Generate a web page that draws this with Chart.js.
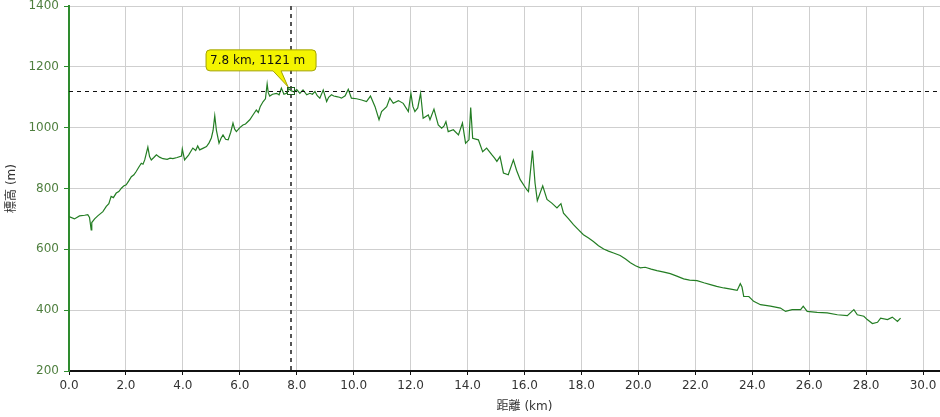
<!DOCTYPE html>
<html>
<head>
<meta charset="utf-8">
<script src="https://cdn.jsdelivr.net/npm/chart.js@4.4.1/dist/chart.umd.min.js"></script>
<style>
  html, body { margin: 0; padding: 0; background: #ffffff; overflow: hidden; }
  #wrap { width: 980px; height: 417px; }
</style>
</head>
<body>
<div id="wrap"><canvas id="c" width="980" height="417"></canvas></div>
<script>
// Distance along route (km)
const distanceKm = [
  0.0, 0.19, 0.37, 0.55, 0.66, 0.72, 0.78, 0.80, 0.9, 1.01, 1.19, 1.31, 1.4, 1.48, 1.56, 1.66, 1.75, 1.84, 1.92, 2.01,
  2.1, 2.19, 2.28, 2.36, 2.45, 2.54, 2.6, 2.66, 2.77, 2.83, 2.89, 2.98, 3.07, 3.18, 3.30, 3.45, 3.55, 3.65, 3.8, 3.95,
  3.98, 4.06, 4.2, 4.35, 4.45, 4.52, 4.59, 4.7, 4.83, 4.92, 5.00, 5.06, 5.12, 5.18, 5.27, 5.34, 5.41, 5.5, 5.59, 5.68,
  5.76, 5.82, 5.88, 6.0, 6.11, 6.2, 6.35, 6.45, 6.58, 6.65, 6.72, 6.82, 6.9, 6.96, 7.0, 7.05, 7.15, 7.29, 7.38, 7.46,
  7.55, 7.64, 7.72, 7.81, 7.9, 8.0, 8.11, 8.22, 8.35, 8.46, 8.55, 8.64, 8.72, 8.81, 8.93, 9.05, 9.12, 9.22, 9.3, 9.40,
  9.5, 9.57, 9.7, 9.81, 9.92, 10.1, 10.28, 10.45, 10.59, 10.75, 10.89, 10.98, 11.16, 11.27, 11.39, 11.57, 11.74, 11.92, 12.01, 12.08,
  12.15, 12.25, 12.35, 12.44, 12.62, 12.68, 12.82, 12.97, 13.09, 13.17, 13.24, 13.32, 13.50, 13.68, 13.82, 13.93, 14.05, 14.11, 14.18, 14.38,
  14.53, 14.67, 14.85, 14.95, 15.03, 15.14, 15.26, 15.43, 15.61, 15.72, 15.85, 16.08, 16.14, 16.28, 16.37, 16.45, 16.64, 16.79, 16.96, 17.14,
  17.28, 17.37, 17.55, 17.72, 17.9, 18.07, 18.25, 18.42, 18.6, 18.78, 18.95, 19.13, 19.36, 19.55, 19.72, 19.9, 20.07, 20.24, 20.45, 20.65,
  20.9, 21.12, 21.35, 21.59, 21.8, 22.06, 22.3, 22.53, 22.75, 23.0, 23.25, 23.47, 23.58, 23.64, 23.70, 23.88, 24.05, 24.29, 24.64, 24.99,
  25.17, 25.40, 25.70, 25.79, 25.93, 26.28, 26.63, 26.99, 27.34, 27.57, 27.69, 27.92, 28.04, 28.22, 28.40, 28.51, 28.75, 28.92, 29.10, 29.21
];
// Elevation (m)
const elevationM = [
  708, 700, 710, 712, 714, 705, 664, 688, 700, 710, 724, 741, 750, 774, 770, 785, 790, 801, 808, 812,
  825, 839, 845, 856, 870, 883, 880, 894, 936, 905, 894, 902, 911, 903, 898, 896, 900, 898, 902, 907,
  930, 894, 910, 933, 925, 940, 927, 932, 938, 950, 966, 990, 1039, 990, 949, 965, 976, 962, 960, 985,
  1015, 995, 987, 1000, 1009, 1012, 1026, 1040, 1058, 1050, 1070, 1086, 1095, 1144, 1115, 1104, 1110, 1113, 1108, 1130,
  1110, 1113, 1128, 1121, 1118, 1125, 1113, 1124, 1108, 1113, 1110, 1119, 1105, 1097, 1124, 1086, 1100, 1108, 1104, 1102,
  1100, 1097, 1105, 1126, 1097, 1095, 1091, 1086, 1104, 1069, 1026, 1053, 1069, 1097, 1080, 1089, 1080, 1053, 1113, 1070,
  1053, 1065, 1113, 1031, 1042, 1026, 1061, 1009, 998, 1005, 1020, 987, 993, 976, 1015, 949, 960, 1066, 965, 960,
  921, 933, 911, 900, 889, 905, 851, 845, 894, 860, 829, 796, 790, 925, 818, 760, 809, 764, 752, 736,
  750, 719, 700, 681, 664, 648, 637, 626, 612, 601, 594, 588, 580, 568, 556, 546, 539, 541, 535, 530,
  525, 520, 512, 503, 499, 497, 490, 484, 478, 473, 469, 465, 487, 476, 445, 445, 429, 418, 413, 407,
  396, 402, 402, 413, 396, 393, 391, 385, 382, 402, 385, 380, 369, 356, 360, 374, 369, 377, 363, 374
];
// Tick labels
const xTickValues = [0, 2, 4, 6, 8, 10, 12, 14, 16, 18, 20, 22, 24, 26, 28, 30];
const yTickValues = [200, 400, 600, 800, 1000, 1200, 1400];
// Highlighted point
const markerKm = [7.8];
const markerM = [1121];
const markerLabel = ['7.8 km, 1121 m'];

const points = distanceKm.map((d, i) => ({ x: d, y: elevationM[i] }));

const crosshairPlugin = {
  id: 'crosshair',
  afterDatasetsDraw(chart) {
    const { ctx, chartArea, scales } = chart;
    const px = scales.x.getPixelForValue(markerKm[0]);
    const py = scales.y.getPixelForValue(markerM[0]);
    ctx.save();
    ctx.strokeStyle = '#111';
    ctx.lineWidth = 1;
    ctx.setLineDash([4, 4]);
    ctx.beginPath();
    ctx.moveTo(chartArea.left, Math.round(py) + 0.5);
    ctx.lineTo(chartArea.right, Math.round(py) + 0.5);
    ctx.stroke();
    ctx.strokeStyle = '#555';
    ctx.lineWidth = 2;
    ctx.setLineDash([4, 4]);
    ctx.beginPath();
    ctx.moveTo(Math.round(px), chartArea.top);
    ctx.lineTo(Math.round(px), chartArea.bottom);
    ctx.stroke();
    ctx.setLineDash([]);
    ctx.strokeStyle = '#1f5f1f';
    ctx.lineWidth = 1;
    ctx.strokeRect(Math.round(px) - 3.5, Math.round(py) - 3.5, 7, 7);
    const left = px - 85, top = py - 41, w = 110, h = 21, r = 4;
    const bottom = top + h;
    ctx.beginPath();
    ctx.moveTo(left + r, top);
    ctx.lineTo(left + w - r, top);
    ctx.quadraticCurveTo(left + w, top, left + w, top + r);
    ctx.lineTo(left + w, bottom - r);
    ctx.quadraticCurveTo(left + w, bottom, left + w - r, bottom);
    ctx.lineTo(px - 10, bottom);
    ctx.lineTo(px - 3, py - 4);
    ctx.lineTo(px - 18, bottom);
    ctx.lineTo(left + r, bottom);
    ctx.quadraticCurveTo(left, bottom, left, bottom - r);
    ctx.lineTo(left, top + r);
    ctx.quadraticCurveTo(left, top, left + r, top);
    ctx.closePath();
    ctx.fillStyle = '#f4f400';
    ctx.fill();
    ctx.strokeStyle = '#a3a300';
    ctx.lineWidth = 1;
    ctx.stroke();
    ctx.fillStyle = '#111';
    ctx.font = '12px "DejaVu Sans", Verdana, sans-serif';
    ctx.textBaseline = 'middle';
    ctx.textAlign = 'left';
    ctx.fillText(markerLabel[0], left + 4, top + h / 2 + 0.5);
    ctx.restore();
  }
};

new Chart(document.getElementById('c'), {
  type: 'line',
  data: {
    datasets: [{
      data: points,
      borderColor: '#237d23',
      borderWidth: 1.2,
      pointRadius: 0,
      tension: 0,
      fill: false
    }]
  },
  options: {
    responsive: false,
    animation: false,
    events: [],
    layout: { padding: { top: 6, left: 0, right: 0, bottom: 0 } },
    plugins: { legend: { display: false }, tooltip: { enabled: false } },
    scales: {
      x: {
        type: 'linear',
        min: 0,
        max: 32,
        afterBuildTicks: s => { s.ticks = xTickValues.map(v => ({ value: v })); },
        afterFit: s => { s.height = 46; s.paddingLeft = 0; s.paddingRight = 0; },
        ticks: {
          color: '#333',
          padding: 4,
          maxRotation: 0,
          font: { family: '"DejaVu Sans", Verdana, sans-serif', size: 12 },
          callback: v => Number(v).toFixed(1)
        },
        grid: { color: '#cfcfcf', lineWidth: 1, drawTicks: true, tickLength: 4, tickColor: '#111' },
        border: { color: '#111', width: 2 },
        title: {
          display: true,
          text: '距離 (km)',
          color: '#333',
          padding: { top: 4, bottom: 3 },
          font: { family: '"DejaVu Sans", "Noto Sans CJK JP", sans-serif', size: 12 }
        }
      },
      y: {
        type: 'linear',
        min: 200,
        max: 1400,
        afterBuildTicks: s => { s.ticks = yTickValues.map(v => ({ value: v })); },
        afterFit: s => { s.width = 69; s.paddingTop = 0; s.paddingBottom = 0; },
        ticks: {
          color: '#4f7f3f',
          padding: 5,
          font: { family: '"DejaVu Sans", Verdana, sans-serif', size: 12 },
          callback: v => String(v)
        },
        grid: { color: '#cfcfcf', lineWidth: 1, drawTicks: true, tickLength: 5, tickColor: '#2e8b2e' },
        border: { color: '#2e8b2e', width: 2 },
        title: {
          display: true,
          text: '標高 (m)',
          color: '#333',
          padding: { top: 5, bottom: 0 },
          font: { family: '"DejaVu Sans", "Noto Sans CJK JP", sans-serif', size: 12 }
        }
      }
    }
  },
  plugins: [crosshairPlugin]
});
</script>
</body>
</html>
